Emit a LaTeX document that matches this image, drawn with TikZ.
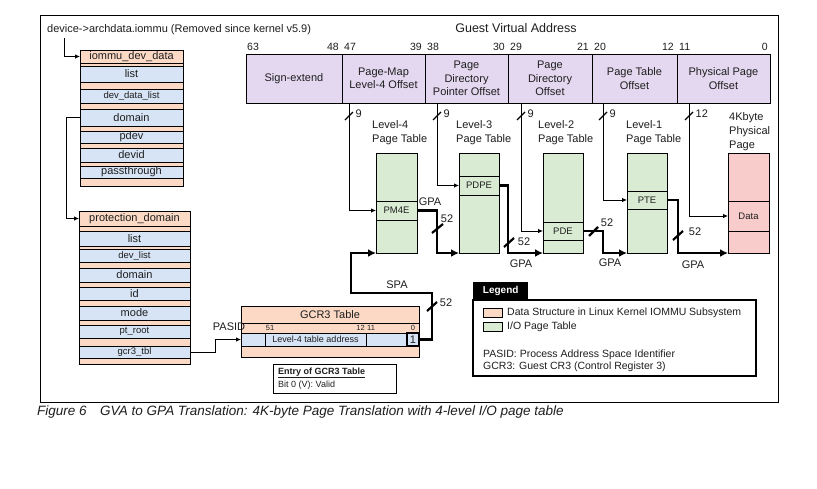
\documentclass[tikz,border=0pt]{standalone}
\usepackage{fontspec}
\setmainfont{Liberation Sans}
\usetikzlibrary{arrows.meta,calc}
\definecolor{salmon}{RGB}{251,217,197}
\definecolor{bluerow}{RGB}{214,228,245}
\definecolor{lav}{RGB}{228,216,240}
\definecolor{ptgreen}{RGB}{218,235,212}
\definecolor{pink}{RGB}{249,204,204}
\definecolor{txt}{RGB}{30,30,30}
\newcommand\fs[2]{\fontsize{#1}{#2}\selectfont}
\newcommand\Bx[7]{\node[#1, minimum width={(#4)-(#3)}, minimum height={(#6)-(#5)}] (#2) at ({((#3)+(#4))/2},{((#5)+(#6))/2}) {#7};}
\begin{document}
\begin{tikzpicture}[x=1pt,y=-1pt,
  every node/.style={text=txt},
  sbox/.style={draw=black, line width=0.9pt, inner sep=0pt, outer sep=0pt, font=\fs{11}{13}},
  hdr/.style={sbox, fill=salmon},
  brow/.style={sbox, fill=bluerow},
  fld/.style={sbox, fill=lav, align=center, font=\fs{11}{13.5}},
  ptab/.style={sbox, fill=ptgreen, font=\fs{9.5}{11}},
  ppage/.style={sbox, fill=pink, font=\fs{9.5}{11}},
  lab/.style={inner sep=0pt, font=\fs{11}{13}},
  bitn/.style={inner sep=0pt, font=\fs{10.5}{12}},
  arr/.style={draw=black, line width=0.8pt, -{Latex[length=5pt,width=4.5pt]}},
  garr/.style={draw=black, line width=2.6pt, -{Latex[length=8pt,width=8pt]}},
  slthin/.style={draw=black, line width=1.3pt},
  slthick/.style={draw=black, line width=2.2pt}
]
\useasboundingbox (0,0) rectangle (817,488);
\fill[white] (0,0) rectangle (817,488);
\draw[line width=0.8pt] (40,15) rectangle (778,402);

% titles
\node[lab, anchor=west] (dev) at (47,30) {device->archdata.iommu (Removed since kernel v5.9)};
\node[inner sep=0pt, font=\fs{12.5}{14}] (gvat) at (516,28) {Guest Virtual Address};

% iommu_dev_data
\Bx{hdr}{idd}{80}{183}{50}{186}{}
\Bx{hdr}{iddh}{80}{183}{50}{63}{iommu\_dev\_data}
\Bx{brow}{idd1}{80}{183}{66}{82}{list}
\Bx{brow}{idd2}{80}{183}{89}{103}{\fs{9.5}{11}dev\_data\_list}
\Bx{brow}{idd3}{80}{183}{109}{126}{domain}
\Bx{brow}{idd4}{80}{183}{131}{143}{pdev}
\Bx{brow}{idd5}{80}{183}{148}{162}{devid}
\Bx{brow}{idd6}{80}{183}{166}{178}{passthrough}

% protection_domain
\Bx{hdr}{pd}{79}{190}{211}{364}{}
\Bx{hdr}{pdh}{79}{190}{211}{226}{protection\_domain}
\Bx{brow}{pd1}{79}{190}{231}{246}{list}
\Bx{brow}{pd2}{79}{190}{249}{262}{\fs{9.5}{11}dev\_list}
\Bx{brow}{pd3}{79}{190}{268}{282}{domain}
\Bx{brow}{pd4}{79}{190}{287}{300}{id}
\Bx{brow}{pd5}{79}{190}{306}{320}{mode}
\Bx{brow}{pd6}{79}{190}{325}{338}{\fs{9.5}{11}pt\_root}
\Bx{brow}{pd7}{79}{190}{346}{358}{\fs{9.5}{11}gcr3\_tbl}

\coordinate (devp) at (64,38);
\draw[arr] (devp) |- (iddh.west);
\draw[arr] (idd3.west) -- ++(-14,0) |- (pdh.west);

% GCR3 table
\Bx{hdr}{gcr}{241}{419}{306}{357}{}
\Bx{hdr}{gcrh}{241}{419}{306}{323}{GCR3 Table}
\Bx{brow}{g1}{241}{265}{333}{346}{}
\Bx{brow}{g2}{265}{366}{333}{346}{\fs{9}{10}Level-4 table address}
\Bx{brow}{g3}{366}{407}{333}{346}{}
\Bx{brow,line width=1.6pt}{g4}{407}{419}{333}{346}{1}
\node[inner sep=0pt, font=\fs{7.5}{8}] (b51) at (270,328) {51};
\node[inner sep=0pt, font=\fs{7.5}{8}, anchor=east] (b12) at (365,328) {12};
\node[inner sep=0pt, font=\fs{7.5}{8}, anchor=west] (b11) at (367,328) {11};
\node[inner sep=0pt, font=\fs{7.5}{8}] (b0) at (413,328) {0};
\draw[arr] (pd7.east) -- ++(25,0) |- (g1.west);
\node[lab] (pasid) at (229,327) {PASID};

\Bx{sbox,fill=white}{entry}{273}{396}{364}{393}{}
\node[inner sep=0pt, anchor=west, font=\fs{9}{10}\bfseries] (ent1) at (278,373) {\underline{Entry of GCR3 Table}};
\node[inner sep=0pt, anchor=west, font=\fs{9}{10}] (ent2) at (278,385) {Bit 0 (V): Valid};

% GVA fields
\Bx{fld}{f1}{246}{342}{54}{103}{Sign-extend}
\Bx{fld}{f2}{342}{425}{54}{103}{Page-Map\\Level-4 Offset}
\Bx{fld}{f3}{425}{508}{54}{103}{Page\\Directory\\Pointer Offset}
\Bx{fld}{f4}{508}{592}{54}{103}{Page\\Directory\\Offset}
\Bx{fld}{f5}{592}{677}{54}{103}{Page Table\\Offset}
\Bx{fld}{f6}{677}{770}{54}{103}{Physical Page\\Offset}
\node[bitn, anchor=west] at (247,47) {63};
\node[bitn, anchor=east] at (339,47) {48};
\node[bitn, anchor=west] at (344,47) {47};
\node[bitn, anchor=east] at (422,47) {39};
\node[bitn, anchor=west] at (427,47) {38};
\node[bitn, anchor=east] at (505,47) {30};
\node[bitn, anchor=west] at (510,47) {29};
\node[bitn, anchor=east] at (589,47) {21};
\node[bitn, anchor=west] at (594,47) {20};
\node[bitn, anchor=east] at (674,47) {12};
\node[bitn, anchor=west] at (679,47) {11};
\node[bitn, anchor=east] at (768,47) {0};

% page tables
\Bx{ptab}{l4}{376}{417}{153}{253}{}
\Bx{ptab}{pm4e}{376}{417}{201}{220}{PM4E}
\Bx{ptab}{l3}{459}{499}{153}{253}{}
\Bx{ptab}{pdpe}{459}{499}{176}{195}{PDPE}
\Bx{ptab}{l2}{543}{583}{153}{253}{}
\Bx{ptab}{pde}{543}{583}{222}{240}{PDE}
\Bx{ptab}{l1}{627}{667}{153}{253}{}
\Bx{ptab}{pte}{627}{667}{191}{209}{PTE}
\Bx{ppage}{pp}{728}{769}{153}{253}{}
\Bx{ppage}{data}{728}{769}{201}{231}{Data}
\node[lab, align=left, anchor=west, font=\fs{11}{14}] (t4) at (372,133) {Level-4\\Page Table};
\node[lab, align=left, anchor=west, font=\fs{11}{14}] (t3) at (456,133) {Level-3\\Page Table};
\node[lab, align=left, anchor=west, font=\fs{11}{14}] (t2) at (538,133) {Level-2\\Page Table};
\node[lab, align=left, anchor=west, font=\fs{11}{14}] (t1) at (626,133) {Level-1\\Page Table};
\node[lab, align=left, anchor=west, font=\fs{11}{14}] (tp) at (729,132) {4Kbyte\\Physical\\Page};

% index lines
\foreach \f/\o/\t/\l in {f2/7/pm4e/9, f3/12/pdpe/9, f4/13/pde/9, f5/11/pte/9, f6/12/data/12}{
  \draw[arr] ($(\f.south west)+(\o,0)$) |- (\t.west);
  \draw[slthin] ($(\f.south west)+(\o,0)+(-4,17)$) -- ++(8,-8);
  \node[lab, anchor=west] at ($(\f.south west)+(\o,0)+(6.5,11)$) {\l};
}

% GPA connectors
\draw[garr] (pm4e.east) -- ++(20,0) |- (l3.south west);
\draw[garr] (pdpe.east) -- ++(9,0) |- (l2.south west);
\draw[garr] (pde.east) -- ++(20,0) |- (l1.south west);
\draw[garr] (pte.east) -- ++(11,0) |- (pp.south west);
\coordinate (spaturn) at (351,293);
\draw[garr] (g4.east) -- ++(13,0) |- (spaturn) |- (l4.south west);

\draw[slthick] (432,233) -- (443,224);
\node[lab] at (447,219) {52};
\draw[slthick] (504,247) -- (514,238);
\node[lab] at (524,242) {52};
\draw[slthick] (589,236) -- (598,227);
\node[lab] at (607,223) {52};
\draw[slthick] (673,240) -- (683,231);
\node[lab] at (695,232) {52};
\draw[slthick] (427,311) -- (437,302);
\node[lab] at (446,303) {52};

\node[lab] at (430,202) {GPA};
\node[lab] at (521,264) {GPA};
\node[lab] at (610,263) {GPA};
\node[lab] at (693,265) {GPA};
\node[lab] at (397,285) {SPA};

% legend
\node[fill=black, text=white, font=\bfseries\fs{10}{12}, minimum width=55, minimum height=18, anchor=north west, inner sep=0pt] (legt) at (473,282) {Legend};
\Bx{sbox,fill=white,line width=1.2pt}{leg}{473}{756}{300}{376}{}
\Bx{hdr}{sw1}{483}{502}{308}{317}{}
\Bx{ptab}{sw2}{483}{502}{322}{331}{}
\node[inner sep=0pt, anchor=west, font=\fs{10.5}{12}] (lg1) at (507,312.5) {Data Structure in Linux Kernel IOMMU Subsystem};
\node[inner sep=0pt, anchor=west, font=\fs{10.5}{12}] (lg2) at (507,326.5) {I/O Page Table};
\node[inner sep=0pt, anchor=west, font=\fs{10.5}{12}] (lg3) at (483,355) {PASID: Process Address Space Identifier};
\node[inner sep=0pt, anchor=west, font=\fs{10.5}{12}] (lg4) at (483,367) {GCR3: Guest CR3 (Control Register 3)};

% caption
\node[inner sep=0pt, anchor=west, font=\itshape\fs{13.5}{15}] (cap) at (37,412) {Figure 6\hspace{1em}GVA to GPA Translation: 4K-byte Page Translation with 4-level I/O page table};
\end{tikzpicture}
\end{document}
